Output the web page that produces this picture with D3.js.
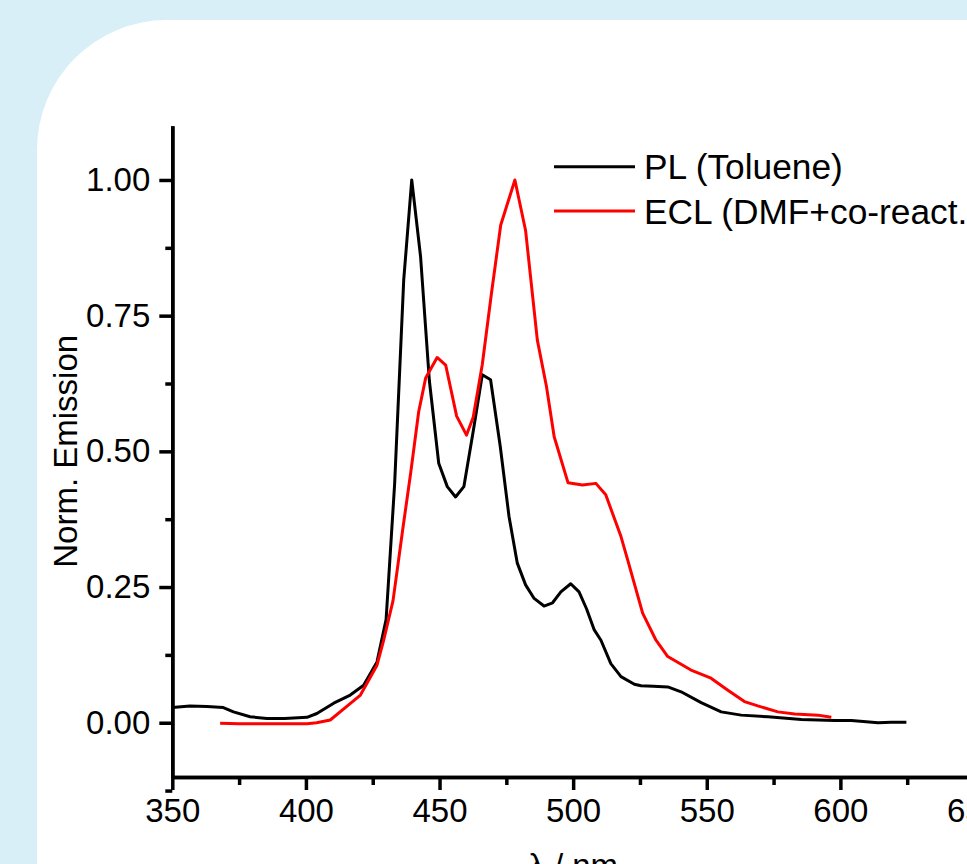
<!DOCTYPE html>
<html>
<head>
<meta charset="utf-8">
<script src="https://cdn.jsdelivr.net/npm/d3@7"></script>
<style>
  body { margin: 0; overflow: hidden; background: #d9eff8; }
  svg text { font-family: "Liberation Sans", Arial, sans-serif; fill: #000; }
</style>
</head>
<body>
<div id="chart"></div>
<script>
// PL spectrum (toluene), wavelength in nm and normalised emission
var plNm  = [350.0, 356.6, 363.0, 369.1, 372.9, 379.1, 385.4, 392.0, 400.4, 404.1,
             410.4, 416.6, 421.6, 426.6, 430.0, 433.2, 436.6, 439.6, 442.9, 446.2,
             449.7, 452.9, 456.0, 459.1, 462.7, 466.0, 469.1, 472.7, 476.0, 479.1,
             482.2, 485.4, 489.1, 492.3, 495.4, 499.1, 502.2, 505.0, 507.9, 510.4,
             514.1, 517.9, 522.9, 525.4, 530.0, 535.4, 540.4, 547.9, 555.4, 562.9,
             572.9, 585.4, 597.9, 604.1, 614.1, 619.0, 624.7];
var plVal = [0.028, 0.031, 0.030, 0.028, 0.020, 0.011, 0.008, 0.008, 0.010, 0.017,
             0.036, 0.051, 0.069, 0.112, 0.190, 0.440, 0.816, 1.000, 0.859, 0.630,
             0.478, 0.435, 0.416, 0.435, 0.540, 0.641, 0.632, 0.510, 0.380, 0.294,
             0.254, 0.229, 0.215, 0.221, 0.241, 0.256, 0.241, 0.210, 0.171, 0.152,
             0.109, 0.085, 0.071, 0.068, 0.067, 0.066, 0.057, 0.037, 0.020, 0.014,
             0.011, 0.006, 0.004, 0.004, 0.000, 0.001, 0.001];

// ECL spectrum (DMF + co-reactant)
var eclNm  = [367.9, 375.0, 385.0, 392.0, 400.4, 404.0, 409.1, 414.5, 420.4, 426.6,
              429.1, 432.6, 436.2, 439.2, 442.2, 444.8, 449.1, 452.3, 456.4, 460.1,
              462.6, 466.0, 469.4, 472.9, 478.2, 482.2, 486.6, 490.0, 492.9, 498.1,
              503.5, 508.5, 512.2, 517.9, 520.4, 526.0, 531.0, 535.4, 544.1, 551.6,
              557.9, 564.1, 569.1, 576.6, 582.9, 591.6, 596.6];
var eclVal = [-0.001, -0.002, -0.002, -0.002, -0.002, 0.000, 0.005, 0.027, 0.051, 0.106,
              0.152, 0.225, 0.355, 0.460, 0.573, 0.635, 0.673, 0.659, 0.565, 0.530,
              0.563, 0.660, 0.790, 0.917, 1.000, 0.907, 0.705, 0.620, 0.527, 0.442,
              0.438, 0.441, 0.420, 0.343, 0.300, 0.202, 0.152, 0.122, 0.097, 0.082,
              0.060, 0.039, 0.031, 0.020, 0.016, 0.014, 0.010];

var xMajor = [350, 400, 450, 500, 550, 600, 650];
var xMinor = [375, 425, 475, 525, 575, 625];
var yMajor = [0, 0.25, 0.5, 0.75, 1.0];
var yMinor = [-0.125, 0.125, 0.375, 0.625, 0.875];

var seriesNames = ["PL (Toluene)", "ECL (DMF+co-react.)"];
var seriesColors = ["#000000", "#ff0000"];

var width = 967, height = 864;

var svg = d3.select("#chart").append("svg")
  .attr("width", width)
  .attr("height", height);

// light blue page with a white card, rounded at the top left
svg.append("rect").attr("width", width).attr("height", height).attr("fill", "#d9eff8");
svg.append("path")
  .attr("d", "M37,150 A130,130 0 0 1 167,20 L" + width + ",20 L" + width + "," + height + " L37," + height + " Z")
  .attr("fill", "#ffffff");

var x = d3.scaleLinear().domain([350, 650]).range([172.3, 974]);
var y = d3.scaleLinear().domain([-0.1, 1.1]).range([777, 125.7]);

var fmt = d3.format(".2f");

// axes: minor ticks first, then the major ones with labels
var gx = svg.append("g").attr("transform", "translate(0," + y(-0.1) + ")");
gx.append("g").call(d3.axisBottom(x).tickValues(xMinor).tickSize(8).tickSizeOuter(0).tickFormat(""));
gx.append("g").call(d3.axisBottom(x).tickValues(xMajor).tickSize(13).tickSizeOuter(0).tickPadding(9).tickFormat(d3.format("d")));

var gy = svg.append("g").attr("transform", "translate(" + x(350) + ",0)");
gy.append("g").call(d3.axisLeft(y).tickValues(yMinor).tickSize(7).tickSizeOuter(0).tickFormat(""));
gy.append("g").call(d3.axisLeft(y).tickValues(yMajor).tickSize(13).tickSizeOuter(0).tickPadding(9).tickFormat(fmt));

svg.selectAll(".domain").attr("stroke", "#000").attr("stroke-width", 3.5);
svg.selectAll(".tick line").attr("stroke", "#000").attr("stroke-width", 3.5);
svg.selectAll(".tick text").attr("font-size", 33).attr("font-family", null);

// axis titles
svg.append("text")
  .attr("transform", "translate(77," + y(0.5) + ") rotate(-90)")
  .attr("text-anchor", "middle")
  .attr("font-size", 33)
  .text("Norm. Emission");

svg.append("text")
  .attr("x", (x(350) + x(650)) / 2)
  .attr("y", 877)
  .attr("text-anchor", "middle")
  .attr("font-size", 33)
  .text("\u03bb / nm");

// spectra
var line = d3.line()
  .x(function(d) { return x(d[0]); })
  .y(function(d) { return y(d[1]); });

var series = [d3.zip(plNm, plVal), d3.zip(eclNm, eclVal)];

svg.selectAll("path.spectrum")
  .data(series)
  .enter().append("path")
  .attr("class", "spectrum")
  .attr("d", line)
  .attr("fill", "none")
  .attr("stroke", function(d, i) { return seriesColors[i]; })
  .attr("stroke-width", 3)
  .attr("stroke-linejoin", "round");

// legend
var legend = svg.append("g");
seriesNames.forEach(function(name, i) {
  var ly = 166.7 + i * 44.3;
  legend.append("line")
    .attr("x1", 554).attr("x2", 635)
    .attr("y1", ly).attr("y2", ly)
    .attr("stroke", seriesColors[i])
    .attr("stroke-width", 3);
  legend.append("text")
    .attr("x", 644)
    .attr("y", ly + 12.5)
    .attr("font-size", 35.3)
    .text(name);
});
</script>
</body>
</html>
